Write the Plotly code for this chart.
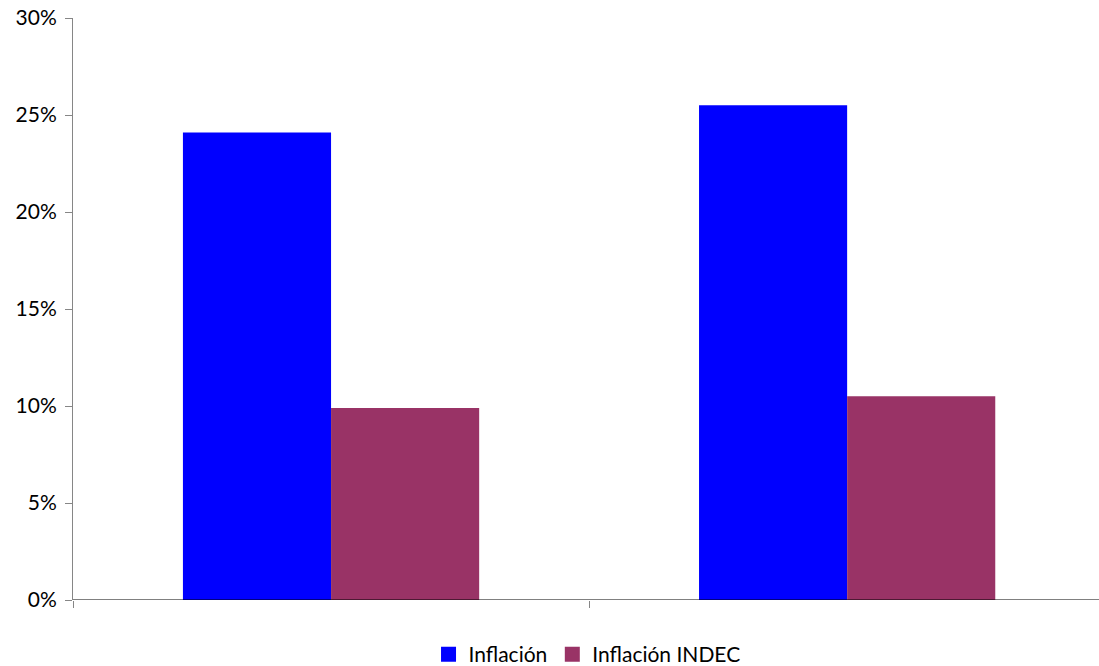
import plotly.graph_objects as go

categories = [0, 1]
series_names = ["Inflación", "Inflación INDEC"]
inflacion = [0.241, 0.255]
inflacion_indec = [0.099, 0.105]
colors = ["#0000FF", "#993366"]
y_ticks = [0, 0.05, 0.10, 0.15, 0.20, 0.25, 0.30]
y_tick_labels = ["0%", "5%", "10%", "15%", "20%", "25%", "30%"]

fig = go.Figure()
for name, vals, c in zip(series_names, [inflacion, inflacion_indec], colors):
    fig.add_trace(go.Bar(x=categories, y=vals, name=name, showlegend=False,
                         marker=dict(color=c, line=dict(width=0))))
for name, c in zip(series_names, colors):
    fig.add_trace(go.Scatter(x=[None], y=[None], mode="markers", name=name,
                             marker=dict(symbol="square", size=15, color=c)))

# category axis baseline across the full plot width (to the right edge)
fig.add_shape(type="line", xref="paper", yref="y", x0=0, x1=1.02, y0=0, y1=0,
              line=dict(color="#000000", width=1), layer="above")

font_family = "Lato, 'Open Sans', sans-serif"
fig.update_layout(
    width=1099, height=666,
    margin=dict(l=73, r=0, t=18, b=66, autoexpand=False),
    paper_bgcolor="white", plot_bgcolor="white",
    barmode="group", bargap=0.426, bargroupgap=0,
    font=dict(family=font_family, size=21, color="#000000"),
    showlegend=True,
    legend=dict(orientation="h", x=0.501, xanchor="center", y=-0.129, yanchor="bottom",
                font=dict(size=21), itemwidth=30, traceorder="normal",
                tracegroupgap=0),
    xaxis=dict(range=[-0.5, 1.488], tickvals=[-0.5, 0.5], ticktext=["", ""],
               ticks="outside", ticklen=7, tickcolor="#868686", tickwidth=1,
               showline=False, showgrid=False, zeroline=False),
    yaxis=dict(range=[0, 0.30], tickvals=y_ticks, ticktext=y_tick_labels,
               ticks="outside", ticklen=7, tickcolor="#868686", tickwidth=1,
               showline=True, linecolor="#868686", linewidth=1,
               showgrid=False, zeroline=False, ticklabelstandoff=4),
)
fig.write_html("out.html")
